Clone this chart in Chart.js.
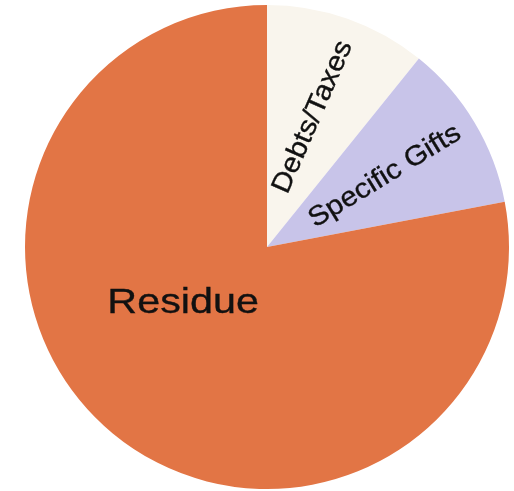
<!DOCTYPE html>
<html>
<head>
<meta charset="utf-8">
<script src="https://cdn.jsdelivr.net/npm/chart.js@4.4.1/dist/chart.umd.min.js"></script>
<style>
  html, body { margin: 0; padding: 0; background: #ffffff; }
  #wrap { width: 514px; height: 491px; position: relative; }
</style>
</head>
<body>
<div id="wrap"><canvas id="estateChart"></canvas></div>
<script>
    // Slice data (share of the estate, %)
    const sliceLabels = ["Debts/Taxes", "Specific Gifts", "Residue"];
    const sliceValues = [10.8, 11.2, 78];
    const sliceColors = ["#F9F5ED", "#C8C4E9", "#E27545"];

    // Label placement: radius fraction, optional angle override, text rotation
    const labelStyles = [
        { radius: 0.57, rotate: -66.5, size: 27.5, stretch: 1.08 },
        { radius: 0.568, rotate: -31.5, size: 27.5, stretch: 1.08 },
        { radius: 0.418, angle: 146, rotate: 0, size: 35, stretch: 1.18 }
    ];

    // Draws each label inside its slice, using the arc elements Chart.js laid out
    const sliceLabelPlugin = {
        id: "sliceLabels",
        afterDatasetsDraw(chart) {
            const ctx = chart.ctx;
            const meta = chart.getDatasetMeta(0);
            meta.data.forEach((arc, i) => {
                const p = arc.getProps(["x", "y", "startAngle", "endAngle", "outerRadius"], true);
                const st = labelStyles[i];
                let a = (p.startAngle + p.endAngle) / 2;
                if (st.angle !== undefined) a = st.angle * Math.PI / 180;
                const r = p.outerRadius * st.radius;
                const lx = p.x + Math.cos(a) * r;
                const ly = p.y + Math.sin(a) * r;

                ctx.save();
                ctx.translate(lx, ly);
                ctx.rotate(st.rotate * Math.PI / 180);
                ctx.scale(st.stretch, 1);
                ctx.font = st.size + "px 'Liberation Sans', Arial, sans-serif";
                ctx.fillStyle = "#111111";
                ctx.strokeStyle = "#111111";
                ctx.lineWidth = 0.35;
                ctx.textAlign = "center";
                ctx.textBaseline = "middle";
                ctx.fillText(chart.data.labels[i], 0, 0);
                ctx.strokeText(chart.data.labels[i], 0, 0);
                ctx.restore();
            });
        }
    };

    new Chart(document.getElementById("estateChart").getContext("2d"), {
        type: "pie",
        data: {
            labels: sliceLabels,
            datasets: [{
                data: sliceValues,
                backgroundColor: sliceColors,
                borderWidth: 0
            }]
        },
        options: {
            responsive: true,
            maintainAspectRatio: false,
            animation: false,
            layout: {
                padding: { left: 20, right: 0, top: 5, bottom: 2 }
            },
            plugins: {
                legend: { display: false },
                tooltip: { enabled: false }
            }
        },
        plugins: [sliceLabelPlugin]
    });
</script>
</body>
</html>
